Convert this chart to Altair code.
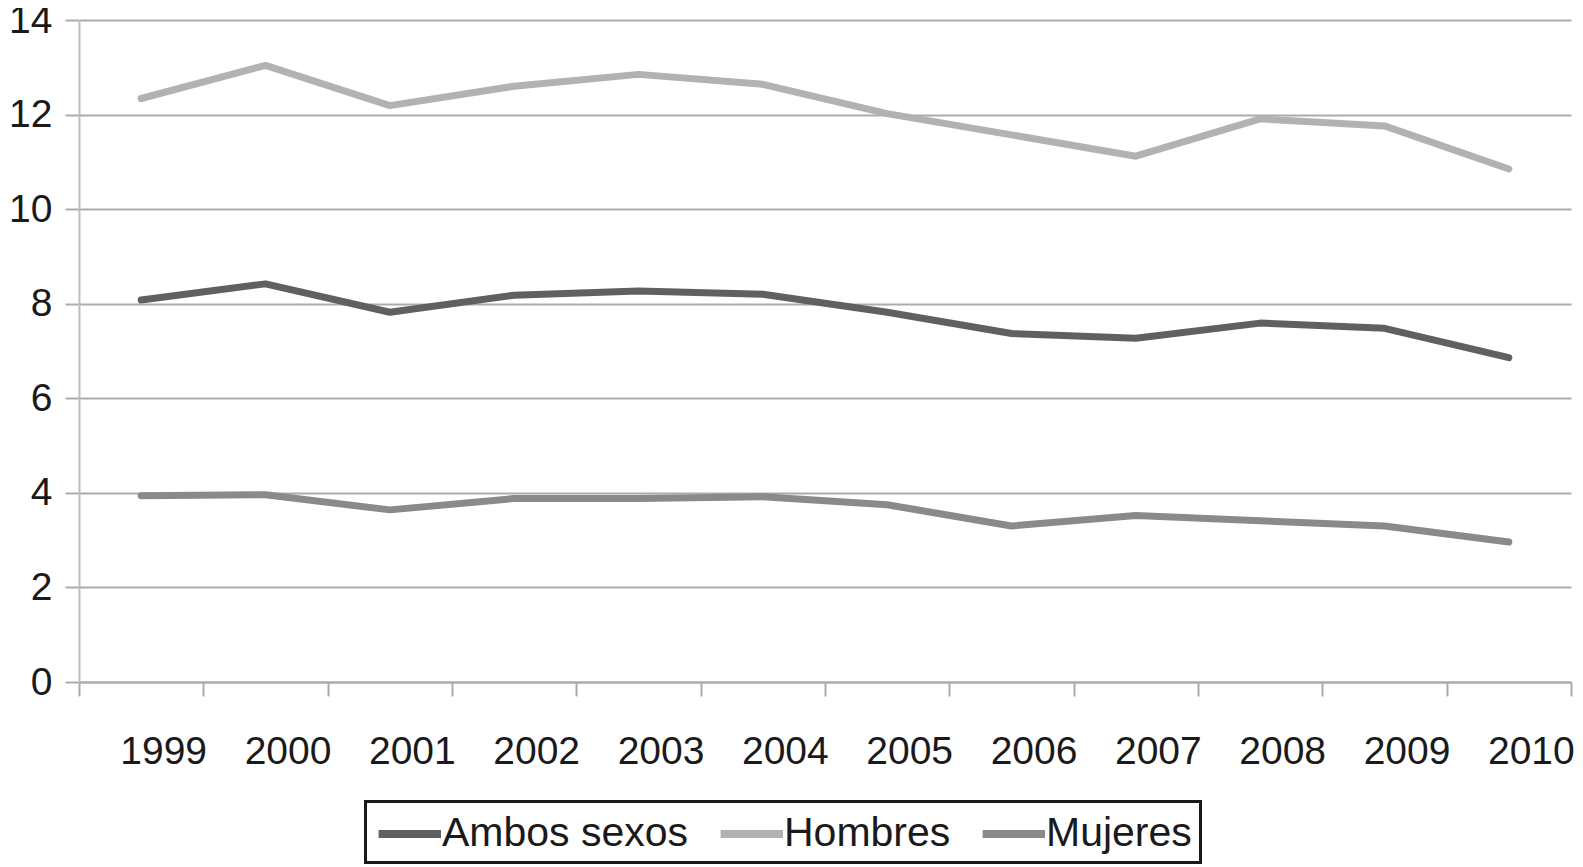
import altair as alt
import pandas as pd

years = ["1999", "2000", "2001", "2002", "2003", "2004", "2005", "2006", "2007", "2008", "2009", "2010"]
ambos = [8.08, 8.42, 7.82, 8.18, 8.27, 8.20, 7.82, 7.37, 7.27, 7.59, 7.48, 6.86]
hombres = [12.34, 13.04, 12.19, 12.60, 12.85, 12.64, 12.02, 11.57, 11.12, 11.91, 11.76, 10.85]
mujeres = [3.94, 3.96, 3.64, 3.88, 3.88, 3.92, 3.75, 3.30, 3.52, 3.41, 3.30, 2.96]

series = ["Ambos sexos", "Hombres", "Mujeres"]
colors = ["#606060", "#b2b2b2", "#8a8a8a"]
y_ticks = [0, 2, 4, 6, 8, 10, 12, 14]

rows = []
for name, vals in zip(series, [ambos, hombres, mujeres]):
    for y, v in zip(years, vals):
        rows.append({"Año": y, "Valor": v, "Serie": name})
df = pd.DataFrame(rows)

FONT = "Liberation Sans"
GRID = "#ababab"

chart = alt.Chart(df).mark_line(strokeWidth=7, strokeCap="round", strokeJoin="round").encode(
    x=alt.X("Año:N", sort=years, title=None,
            scale=alt.Scale(paddingInner=0, paddingOuter=0),
            axis=alt.Axis(labelAngle=0, labelFontSize=39, labelFont=FONT, labelColor="#1a1a1a",
                          tickBand="extent", ticks=True, tickSize=14, tickColor=GRID, tickWidth=2,
                          domainColor=GRID, domainWidth=2, grid=False,
                          labelPadding=36, labelOffset=22)),
    y=alt.Y("Valor:Q", title=None,
            scale=alt.Scale(domain=[0, 14], nice=False),
            axis=alt.Axis(values=y_ticks, labelFontSize=39, labelFont=FONT,
                          labelColor="#1a1a1a", tickSize=14, tickColor=GRID, tickWidth=2,
                          domainColor="#bdbdbd", domainWidth=2, gridColor=GRID, gridWidth=2,
                          labelPadding=13)),
    color=alt.Color("Serie:N", sort=series, title=None,
                    scale=alt.Scale(domain=series, range=colors),
                    legend=alt.Legend(orient="none", legendX=286.5, legendY=781.5, direction="horizontal",
                                      symbolType="M-0.97,0H2.15", symbolStrokeWidth=8, symbolSize=1600,
                                      labelFontSize=41, labelFont=FONT, labelColor="#1a1a1a",
                                      labelOffset=20, columnPadding=15, padding=8.5,
                                      strokeColor="#1a1a1a", labelLimit=500)),
).properties(
    width=1492, height=662,
    autosize=alt.AutoSizeParams(type="none"),
    padding={"left": 71, "top": 12, "right": 4, "bottom": 185},
).configure_view(stroke=None).configure_legend(strokeWidth=3)

chart.save("out.html", embed_options={"renderer": "svg", "actions": False})
